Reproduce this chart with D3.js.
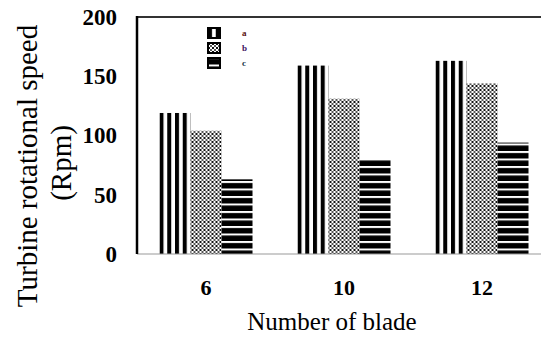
<!DOCTYPE html>
<meta charset="utf-8">
<script src="https://d3js.org/d3.v7.min.js"></script>
<style>
  body { margin: 0; background: #fff; }
  svg text { font-family: "Liberation Serif", "DejaVu Serif", serif; }
  .tick-label { font-weight: bold; fill: #000; }
</style>
<div id="chart"></div>
<script>
  // data
  const blades = ["6", "10", "12"];
  const seriesKeys = ["a", "b", "c"];
  const seriesA = [119, 159, 163];
  const seriesB = [104, 131, 144];
  const seriesC = [63, 80, 94];
  const yTicks = [0, 50, 100, 150, 200];

  const rows = blades.map((b, i) => ({blade: b, a: seriesA[i], b: seriesB[i], c: seriesC[i]}));

  const W = 541, H = 338;
  const margin = {top: 17, left: 137, bottom: 84};
  const plotW = 414, plotH = H - margin.top - margin.bottom;

  const svg = d3.select("#chart").append("svg")
    .attr("width", W).attr("height", H);

  // fill patterns for the three series
  const defs = svg.append("defs");
  const pa = defs.append("pattern").attr("id", "pat-a")
    .attr("patternUnits", "userSpaceOnUse").attr("width", 7.75).attr("height", 10);
  pa.append("rect").attr("width", 7.75).attr("height", 10).attr("fill", "#fff");
  pa.append("rect").attr("width", 4).attr("height", 10).attr("fill", "#000");

  const pb = defs.append("pattern").attr("id", "pat-b")
    .attr("patternUnits", "userSpaceOnUse").attr("width", 8).attr("height", 4);
  pb.append("rect").attr("width", 8).attr("height", 4).attr("fill", "#fff");
  pb.append("rect").attr("x", 0).attr("y", 0).attr("width", 2).attr("height", 2).attr("fill", "#111");
  pb.append("rect").attr("x", 4).attr("y", 0).attr("width", 2).attr("height", 2).attr("fill", "#111");
  pb.append("rect").attr("x", 2).attr("y", 2).attr("width", 2).attr("height", 2).attr("fill", "#555");
  pb.append("rect").attr("x", 6).attr("y", 2).attr("width", 2).attr("height", 2).attr("fill", "#555");

  const pc = defs.append("pattern").attr("id", "pat-c")
    .attr("patternUnits", "userSpaceOnUse").attr("width", 10).attr("height", 7.5)
    .attr("y", margin.top + plotH);
  pc.append("rect").attr("width", 10).attr("height", 7.5).attr("fill", "#fff");
  pc.append("rect").attr("y", 2).attr("width", 10).attr("height", 5.5).attr("fill", "#000");

  const fills = {a: "url(#pat-a)", b: "url(#pat-b)", c: "url(#pat-c)"};

  const g = svg.append("g").attr("transform", `translate(${margin.left},${margin.top})`);

  const x0 = d3.scaleBand().domain(blades).range([0, plotW]).paddingInner(0.326).paddingOuter(0.163);
  const x1 = d3.scaleBand().domain(seriesKeys).range([0, x0.bandwidth()]);
  const y = d3.scaleLinear().domain([0, 200]).range([plotH, 0]);

  // bars
  g.selectAll("g.grp").data(rows).join("g")
    .attr("class", "grp")
    .attr("transform", d => `translate(${x0(d.blade)},0)`)
    .selectAll("rect").data(d => seriesKeys.map(k => ({key: k, value: d[k]}))).join("rect")
      .attr("x", d => x1(d.key))
      .attr("y", d => y(d.value))
      .attr("width", x1.bandwidth())
      .attr("height", d => plotH - y(d.value))
      .attr("fill", d => fills[d.key]);

  // frame
  g.append("line").attr("x1", 0).attr("x2", W).attr("y1", 0).attr("y2", 0)
    .attr("stroke", "#333").attr("stroke-width", 2);
  g.append("line").attr("x1", 0).attr("x2", W).attr("y1", plotH).attr("y2", plotH)
    .attr("stroke", "#999").attr("stroke-width", 1);
  g.append("line").attr("x1", 0).attr("x2", 0).attr("y1", -1).attr("y2", plotH)
    .attr("stroke", "#000").attr("stroke-width", 2.5);

  // y tick labels
  g.append("g").selectAll("text").data(yTicks).join("text")
    .attr("class", "tick-label")
    .attr("x", -20).attr("y", d => y(d)).attr("dy", "0.34em")
    .attr("text-anchor", "end").style("font-size", "23px")
    .text(d => d);

  // x tick labels
  g.append("g").selectAll("text").data(blades).join("text")
    .attr("class", "tick-label")
    .attr("x", d => x0(d) + x0.bandwidth() / 2).attr("y", plotH + 41)
    .attr("text-anchor", "middle").style("font-size", "22px")
    .text(d => d);

  // axis titles
  svg.append("text").attr("transform", "translate(37,166) rotate(-90)")
    .attr("text-anchor", "middle").style("font-size", "29px").text("Turbine rotational speed");
  svg.append("text").attr("transform", "translate(71,163) rotate(-90)")
    .attr("text-anchor", "middle").style("font-size", "29px").text("(Rpm)");
  svg.append("text").attr("x", 332).attr("y", 330)
    .attr("text-anchor", "middle").style("font-size", "25px").text("Number of blade");

  // legend
  const legend = svg.append("g").attr("transform", "translate(208,28)");
  const li = legend.selectAll("g").data(seriesKeys).join("g")
    .attr("transform", (d, i) => `translate(0,${i * 15})`);
  li.append("rect").attr("width", 12).attr("height", 10)
    .attr("fill", d => fills[d]).attr("stroke", "#000").attr("stroke-width", 2);
  li.append("text").attr("x", 34).attr("y", 8).style("font-size", "9px").style("font-weight", "bold")
    .attr("fill", (d, i) => ["#5a1010", "#401060", "#103040"][i]).text(d => d);
</script>
